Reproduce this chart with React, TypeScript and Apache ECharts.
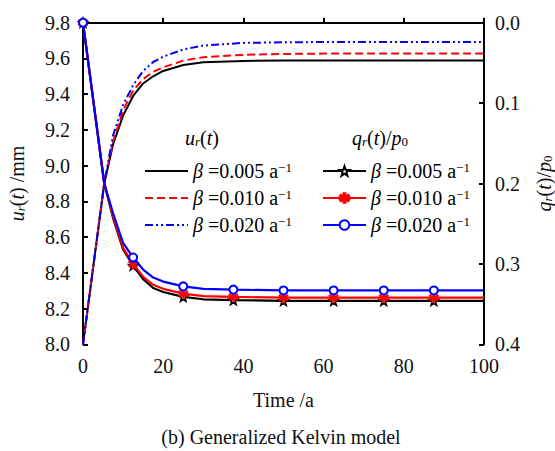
import React, { useEffect, useRef } from 'react';
import * as echarts from 'echarts';

const FONT = 'Liberation Serif, Times New Roman, serif';

// time points for u_r(t) curves
const tU = [0, 5.3, 7.5, 10, 12.5, 15, 17.5, 20, 25, 30, 40, 50, 60, 80, 100];
const uBeta005 = [8.0, 8.9, 9.12, 9.28, 9.39, 9.46, 9.5, 9.53, 9.563, 9.578, 9.586, 9.588, 9.588, 9.588, 9.588];
const uBeta010 = [8.0, 8.9, 9.135, 9.31, 9.42, 9.485, 9.525, 9.55, 9.588, 9.607, 9.62, 9.625, 9.627, 9.627, 9.627];
const uBeta020 = [8.0, 8.9, 9.17, 9.34, 9.45, 9.53, 9.58, 9.61, 9.65, 9.672, 9.687, 9.69, 9.692, 9.692, 9.692];

// time points for q_r(t)/p0 curves
const tQ = [0, 5.3, 7.5, 10, 12.5, 15, 17.5, 20, 25, 30, 37.5, 50, 62.5, 75, 87.5, 100];
const qBeta005 = [0, 0.2, 0.243, 0.282, 0.302, 0.319, 0.33, 0.335, 0.341, 0.344, 0.345, 0.346, 0.346, 0.346, 0.346, 0.346];
const qBeta010 = [0, 0.2, 0.241, 0.28, 0.3, 0.316, 0.326, 0.331, 0.337, 0.34, 0.341, 0.342, 0.342, 0.342, 0.342, 0.342];
const qBeta020 = [0, 0.2, 0.237, 0.274, 0.292, 0.307, 0.317, 0.322, 0.328, 0.331, 0.332, 0.333, 0.333, 0.333, 0.333, 0.333];
const markerTimes = [0, 12.5, 25, 37.5, 50, 62.5, 75, 87.5];

const betaLabels = ['0.005', '0.010', '0.020'];
const xTicks = { min: 0, max: 100, interval: 20 };
const leftTicks = { min: 8.0, max: 9.8, interval: 0.2 };
const rightTicks = { min: 0, max: 0.4, interval: 0.1 };

const STAR = 'path://M0,-5 L1.176,-1.618 L4.755,-1.545 L1.902,0.618 L2.939,4.045 L0,2 L-2.939,4.045 L-1.902,0.618 L-4.755,-1.545 L-1.176,-1.618 Z';
const ASTER = 'path://M-1,-5 L1,-5 L1,5 L-1,5 Z M-4.83,-1.63 L-3.83,-3.37 L4.83,1.63 L3.83,3.37 Z M3.83,-3.37 L4.83,-1.63 L-3.83,3.37 L-4.83,1.63 Z';

const FS = 20;
const rich = {
  i: { fontStyle: 'italic', fontFamily: FONT, fontSize: FS, lineHeight: 20 },
  n: { fontFamily: FONT, fontSize: FS, lineHeight: 20 },
  sub: { fontStyle: 'italic', fontFamily: FONT, fontSize: 13, lineHeight: 12, verticalAlign: 'bottom' },
  sub0: { fontFamily: FONT, fontSize: 13, lineHeight: 12, verticalAlign: 'bottom' },
  sup: { fontFamily: FONT, fontSize: 13, lineHeight: 12, verticalAlign: 'top' },
};

function pairs(t: number[], v: number[], markers: boolean) {
  return t.map((x, i) => {
    const item: any = { value: [x, v[i]] };
    if (markers && !markerTimes.includes(x)) item.symbol = 'none';
    return item;
  });
}

export default function App() {
  const ref = useRef<HTMLDivElement>(null);
  useEffect(() => {
    const chart = echarts.init(ref.current!, null, { renderer: 'svg' });
    const axisLine = { show: true, lineStyle: { color: '#000', width: 2 } };
    const axisTick = { show: true, inside: true, length: 5, lineStyle: { color: '#000', width: 2 } };
    const labelStyle = { fontFamily: FONT, fontSize: FS, color: '#111' };
    const legendFmt = (name: string) => {
      const idx = Number(name.slice(1)) - 1;
      return `{i|β}{n| =${betaLabels[idx]} a}{sup|−1}`;
    };
    const uColors = ['#000000', '#ff0000', '#0000ff'];
    const uDash: any[] = ['solid', [8, 4], [8, 3, 2, 3, 2, 3]];
    const uData = [uBeta005, uBeta010, uBeta020];
    const qData = [qBeta005, qBeta010, qBeta020];
    const qSymbols = [STAR, ASTER, 'emptyCircle'];
    const qSymbolSize = [9, 10, 8];
    const qItem = [
      { color: '#fff', borderColor: '#000', borderWidth: 1.5 },
      { color: '#ff0000', borderColor: '#ff0000', borderWidth: 0.5 },
      { color: '#0000ff', borderColor: '#0000ff', borderWidth: 2 },
    ];
    const series: any[] = [];
    uData.forEach((d, i) => {
      series.push({
        name: 'u' + (i + 1),
        type: 'line',
        yAxisIndex: 0,
        data: pairs(tU, d, false),
        symbol: 'none',
        showSymbol: false,
        clip: false,
        lineStyle: { color: uColors[i], width: 2, type: uDash[i] },
        itemStyle: { color: uColors[i] },
      });
    });
    qData.forEach((d, i) => {
      series.push({
        name: 'q' + (i + 1),
        type: 'line',
        yAxisIndex: 1,
        data: pairs(tQ, d, true),
        symbol: qSymbols[i],
        symbolSize: qSymbolSize[i],
        showSymbol: true,
        showAllSymbol: true,
        clip: false,
        lineStyle: { color: uColors[i], width: 2.2, type: 'solid' },
        itemStyle: qItem[i],
        z: 3 + i,
      });
    });
    const legendBase = {
      orient: 'vertical',
      itemWidth: 43,
      itemHeight: 12,
      itemGap: 7,
      selectedMode: false,
      formatter: legendFmt,
      textStyle: { fontFamily: FONT, fontSize: FS, lineHeight: 20, color: '#000', rich },
    };
    const nameRich = {
      i: { fontStyle: 'italic', fontFamily: FONT, fontSize: FS, lineHeight: 20 },
      n: { fontFamily: FONT, fontSize: FS, lineHeight: 20 },
      sub: { fontStyle: 'italic', fontFamily: FONT, fontSize: 13, lineHeight: 10, verticalAlign: 'bottom' },
      sub0: { fontFamily: FONT, fontSize: 13, lineHeight: 10, verticalAlign: 'bottom' },
    };
    const option: any = {
      animation: false,
      backgroundColor: '#fff',
      textStyle: { fontFamily: FONT },
      grid: { left: 83, right: 71, top: 22.7, bottom: 106.7, containLabel: false, outerBoundsMode: 'none' },
      xAxis: {
        type: 'value',
        ...xTicks,
        axisLine,
        axisTick,
        splitLine: { show: false },
        axisLabel: { ...labelStyle, margin: 12, showMinLabel: true, showMaxLabel: true },
        name: 'Time /a',
        nameLocation: 'middle',
        nameGap: 46,
        nameTextStyle: { fontFamily: FONT, fontSize: FS, color: '#111' },
      },
      yAxis: [
        {
          type: 'value',
          position: 'left',
          ...leftTicks,
          axisLine,
          axisTick,
          splitLine: { show: false },
          axisLabel: { ...labelStyle, margin: 13, formatter: (v: number) => v.toFixed(1) },
          name: '{i|u}{sub|r}{n|(}{i|t}{n|) /mm}',
          nameLocation: 'middle',
          nameGap: 56,
          nameRotate: 90,
          nameTextStyle: { fontFamily: FONT, fontSize: FS, color: '#111', rich: nameRich },
        },
        {
          type: 'value',
          position: 'right',
          inverse: true,
          ...rightTicks,
          axisLine,
          axisTick,
          splitLine: { show: false },
          axisLabel: { ...labelStyle, margin: 11, formatter: (v: number) => v.toFixed(1) },
          name: '{i|q}{sub|r}{n|(}{i|t}{n|)/}{i|p}{sub0|0}',
          nameLocation: 'middle',
          nameGap: 50,
          nameRotate: 90,
          nameTextStyle: { fontFamily: FONT, fontSize: FS, color: '#111', rich: nameRich },
        },
      ],
      legend: [
        { ...legendBase, data: ['u1', 'u2', 'u3'], left: 139, top: 156, itemStyle: { opacity: 0 } },
        { ...legendBase, data: ['q1', 'q2', 'q3'], left: 317, top: 156 },
      ],
      graphic: [
        {
          type: 'text',
          x: 202,
          y: 138,
          style: {
            text: '{i|u}{sub|r}{n|(}{i|t}{n|)}',
            rich,
            fontFamily: FONT,
            fontSize: FS,
            fill: '#000',
            align: 'center',
            textAlign: 'center',
            verticalAlign: 'middle',
            textVerticalAlign: 'middle',
          },
        },
        {
          type: 'text',
          x: 380,
          y: 138,
          style: {
            text: '{i|q}{sub|r}{n|(}{i|t}{n|)/}{i|p}{sub0|0}',
            rich,
            fontFamily: FONT,
            fontSize: FS,
            fill: '#000',
            align: 'center',
            textAlign: 'center',
            verticalAlign: 'middle',
            textVerticalAlign: 'middle',
          },
        },
        {
          type: 'text',
          x: 281,
          y: 437,
          style: {
            text: '(b) Generalized Kelvin model',
            fontFamily: FONT,
            fontSize: FS,
            fill: '#111',
            align: 'center',
            textAlign: 'center',
            verticalAlign: 'middle',
            textVerticalAlign: 'middle',
          },
        },
      ],
      series,
    };
    chart.setOption(option);
    return () => chart.dispose();
  }, []);
  return <div ref={ref} style={{ position: 'fixed', left: 0, top: 0, width: 555, height: 451 }} />;
}
